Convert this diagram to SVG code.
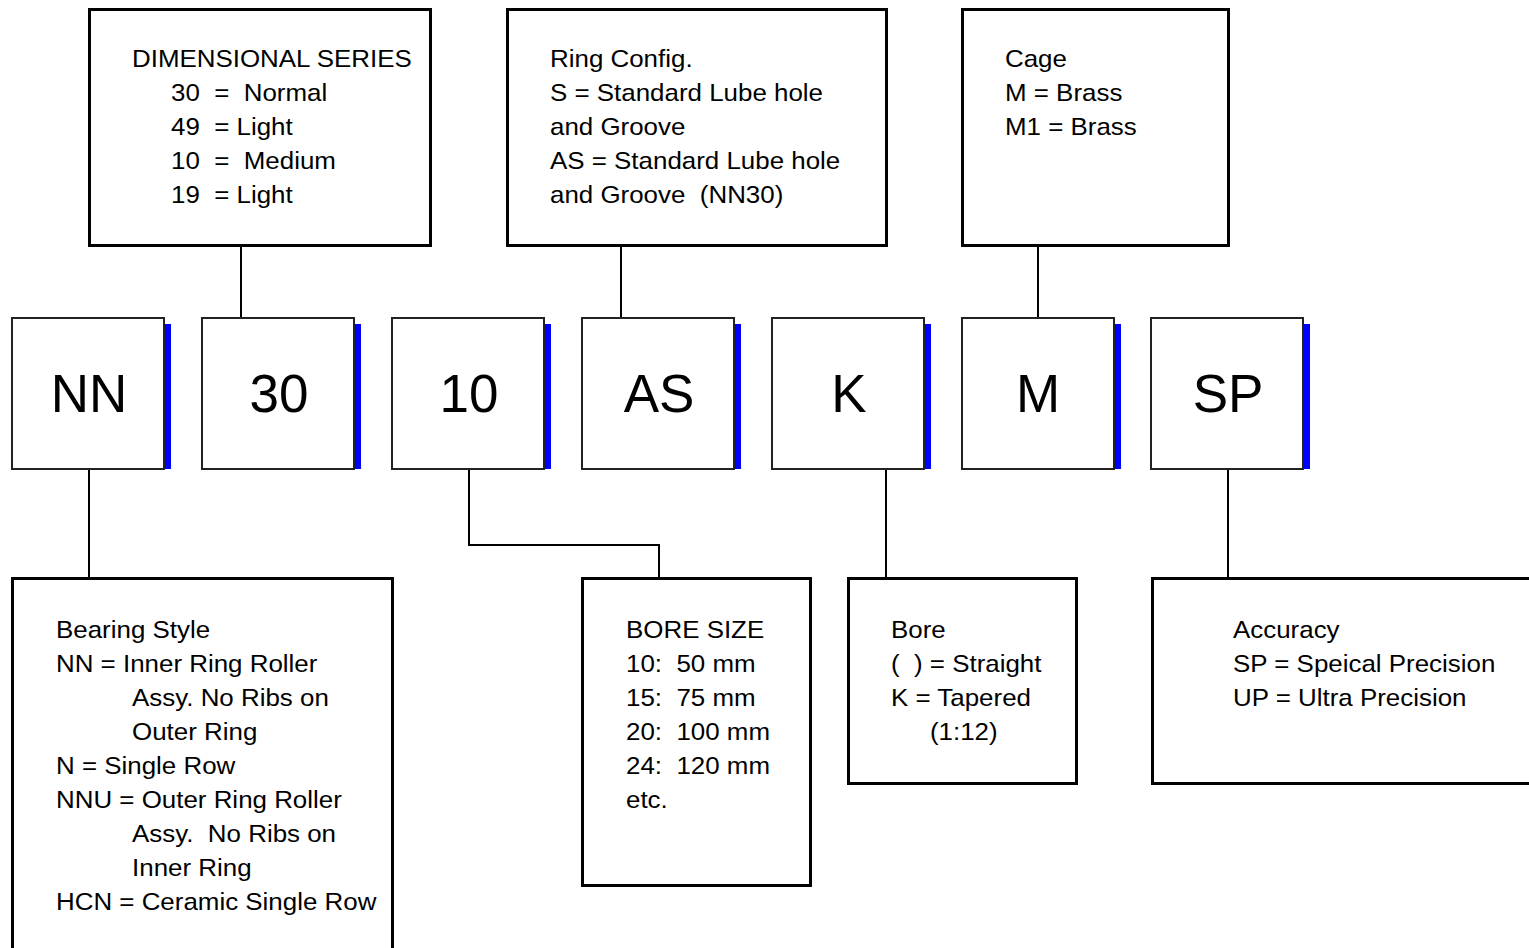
<svg xmlns="http://www.w3.org/2000/svg" width="1529" height="948" viewBox="0 0 1529 948" xml:space="preserve">
<style>
.info{fill:#fff;stroke:#000;stroke-width:3}
.code{fill:#fff;stroke:#222;stroke-width:2}
.bar{fill:#0000ff}
.big{font-family:"Liberation Sans",Arial,sans-serif;font-size:53px;fill:#000;text-anchor:middle}
.t{font-family:"Liberation Sans",Arial,sans-serif;font-size:24px;fill:#000;white-space:pre}
.c{fill:none;stroke:#000;stroke-width:2}
</style>
<rect width="1529" height="948" fill="#fff"/>
<g id="connectors">
<path class="c" d="M241 246V318"/>
<path class="c" d="M621 246V318"/>
<path class="c" d="M1038 246V318"/>
<path class="c" d="M89 469V578"/>
<path class="c" d="M469 469V545H659V578"/>
<path class="c" d="M886 469V578"/>
<path class="c" d="M1228 469V578"/>
</g>
<g id="dimensional-series">
<rect class="info" x="89.5" y="9.5" width="341" height="236"/>
<g transform="translate(132,67) scale(1.08,1)">
<text class="t" x="0" y="0">DIMENSIONAL SERIES</text>
<text class="t" x="36.1" y="34">30  =  Normal</text>
<text class="t" x="36.1" y="68">49  = Light</text>
<text class="t" x="36.1" y="102">10  =  Medium</text>
<text class="t" x="36.1" y="136">19  = Light</text>
</g>
</g>
<g id="ring-config">
<rect class="info" x="507.5" y="9.5" width="379" height="236"/>
<g transform="translate(550,67) scale(1.08,1)">
<text class="t" x="0" y="0">Ring Config.</text>
<text class="t" x="0" y="34">S = Standard Lube hole</text>
<text class="t" x="0" y="68">and Groove</text>
<text class="t" x="0" y="102">AS = Standard Lube hole</text>
<text class="t" x="0" y="136">and Groove  (NN30)</text>
</g>
</g>
<g id="cage">
<rect class="info" x="962.5" y="9.5" width="266" height="236"/>
<g transform="translate(1005,67) scale(1.08,1)">
<text class="t" x="0" y="0">Cage</text>
<text class="t" x="0" y="34">M = Brass</text>
<text class="t" x="0" y="68">M1 = Brass</text>
</g>
</g>
<g id="code-NN">
<rect class="bar" x="165" y="324" width="6" height="145"/>
<rect class="code" x="12" y="318" width="152" height="151"/>
<text class="big" x="89" y="412">NN</text>
</g>
<g id="code-30">
<rect class="bar" x="355" y="324" width="6" height="145"/>
<rect class="code" x="202" y="318" width="152" height="151"/>
<text class="big" x="279" y="412">30</text>
</g>
<g id="code-10">
<rect class="bar" x="545" y="324" width="6" height="145"/>
<rect class="code" x="392" y="318" width="152" height="151"/>
<text class="big" x="469" y="412">10</text>
</g>
<g id="code-AS">
<rect class="bar" x="735" y="324" width="6" height="145"/>
<rect class="code" x="582" y="318" width="152" height="151"/>
<text class="big" x="659" y="412">AS</text>
</g>
<g id="code-K">
<rect class="bar" x="925" y="324" width="6" height="145"/>
<rect class="code" x="772" y="318" width="152" height="151"/>
<text class="big" x="849" y="412">K</text>
</g>
<g id="code-M">
<rect class="bar" x="1115" y="324" width="6" height="145"/>
<rect class="code" x="962" y="318" width="152" height="151"/>
<text class="big" x="1038" y="412">M</text>
</g>
<g id="code-SP">
<rect class="bar" x="1304" y="324" width="6" height="145"/>
<rect class="code" x="1151" y="318" width="152" height="151"/>
<text class="big" x="1228" y="412">SP</text>
</g>
<g id="bearing-style">
<rect class="info" x="12.5" y="578.5" width="380" height="390"/>
<g transform="translate(56,638) scale(1.08,1)">
<text class="t" x="0" y="0">Bearing Style</text>
<text class="t" x="0" y="34">NN = Inner Ring Roller</text>
<text class="t" x="70.4" y="68">Assy. No Ribs on</text>
<text class="t" x="70.4" y="102">Outer Ring</text>
<text class="t" x="0" y="136">N = Single Row</text>
<text class="t" x="0" y="170">NNU = Outer Ring Roller</text>
<text class="t" x="70.4" y="204">Assy.  No Ribs on</text>
<text class="t" x="70.4" y="238">Inner Ring</text>
<text class="t" x="0" y="272">HCN = Ceramic Single Row</text>
</g>
</g>
<g id="bore-size">
<rect class="info" x="582.5" y="578.5" width="228" height="307"/>
<g transform="translate(626,638) scale(1.08,1)">
<text class="t" x="0" y="0">BORE SIZE</text>
<text class="t" x="0" y="34">10:  50 mm</text>
<text class="t" x="0" y="68">15:  75 mm</text>
<text class="t" x="0" y="102">20:  100 mm</text>
<text class="t" x="0" y="136">24:  120 mm</text>
<text class="t" x="0" y="170">etc.</text>
</g>
</g>
<g id="bore">
<rect class="info" x="848.5" y="578.5" width="228" height="205"/>
<g transform="translate(891,638) scale(1.08,1)">
<text class="t" x="0" y="0">Bore</text>
<text class="t" x="0" y="34">(  ) = Straight</text>
<text class="t" x="0" y="68">K = Tapered</text>
<text class="t" x="36.1" y="102">(1:12)</text>
</g>
</g>
<g id="accuracy">
<rect class="info" x="1152.5" y="578.5" width="400" height="205"/>
<g transform="translate(1233,638) scale(1.08,1)">
<text class="t" x="0" y="0">Accuracy</text>
<text class="t" x="0" y="34">SP = Speical Precision</text>
<text class="t" x="0" y="68">UP = Ultra Precision</text>
</g>
</g>
</svg>
